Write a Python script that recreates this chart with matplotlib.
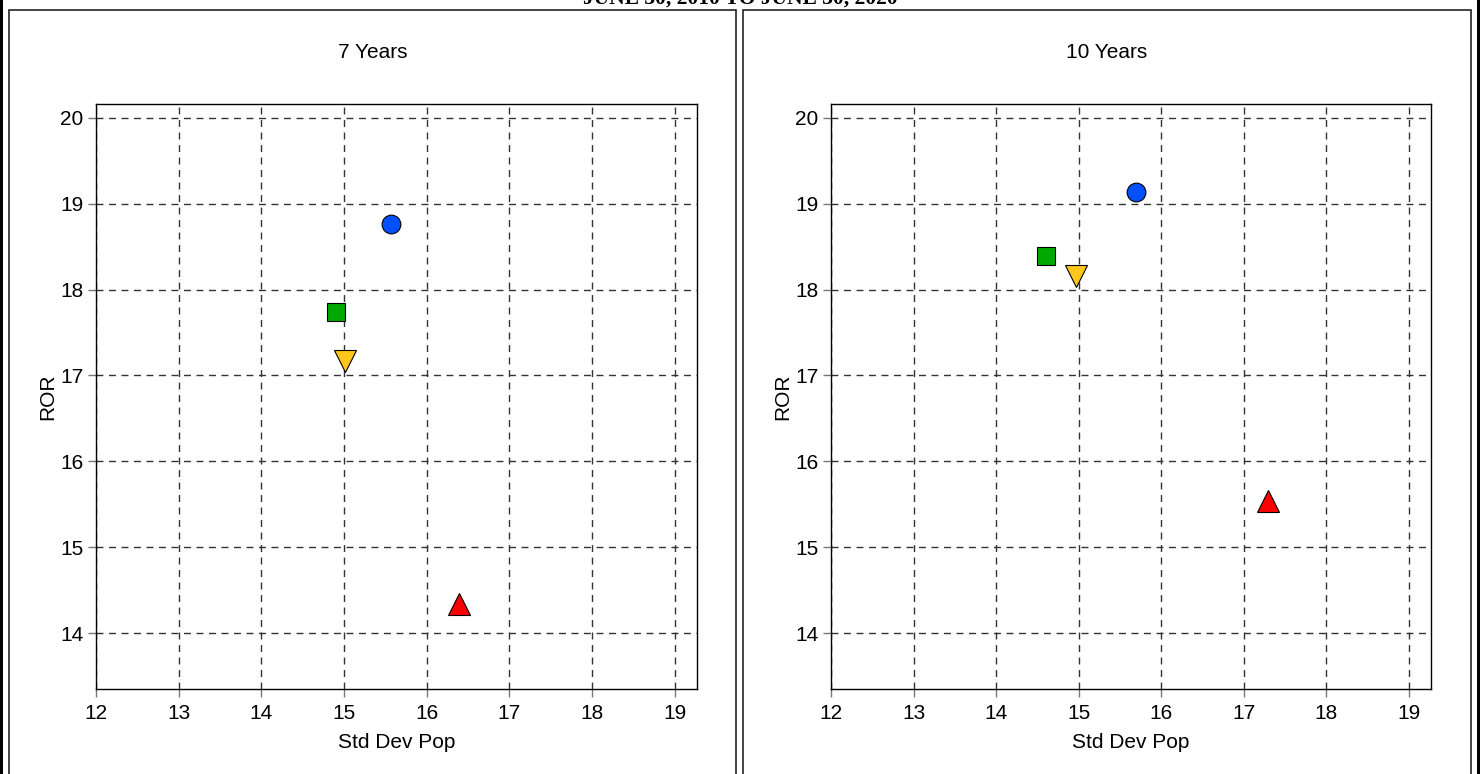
import matplotlib
matplotlib.use("Agg")
import matplotlib.pyplot as plt
from matplotlib.patches import Rectangle

W, H = 1480, 774

panel_titles = ["7 Years", "10 Years"]
x_ticks = [12, 13, 14, 15, 16, 17, 18, 19]
y_ticks = [14, 15, 16, 17, 18, 19, 20]

# series: circle (blue), square (green), down-triangle (yellow), up-triangle (red)
std_7 = [15.57, 14.90, 15.01, 16.39]
ror_7 = [18.76, 17.74, 17.17, 14.34]
std_10 = [15.70, 14.60, 14.97, 17.30]
ror_10 = [19.13, 18.39, 18.16, 15.54]

markers = ["o", "s", "v", "^"]
colors = ["#0050FF", "#00A800", "#FFC61E", "#FF0000"]
sizes = [13.5, 13.5, 16, 16]

plt.rcParams['font.family'] = ['Liberation Sans', 'DejaVu Sans']

fig = plt.figure(figsize=(W / 100, H / 100), dpi=100)


def fx(px):
    return px / W


def fy(py):
    return 1 - py / H


# outer borders
fig.add_artist(Rectangle((fx(0), 0), fx(3), 1, transform=fig.transFigure,
                         facecolor="black", edgecolor="none"))
fig.add_artist(Rectangle((fx(1477), 0), fx(3), 1, transform=fig.transFigure,
                         facecolor="black", edgecolor="none"))
# panel boxes
panels = [(9, 736), (743, 1471)]
for x0, x1 in panels:
    fig.add_artist(Rectangle((fx(x0), fy(790)), fx(x1 - x0), fy(10) - fy(790),
                             transform=fig.transFigure, facecolor="none",
                             edgecolor="#222222", linewidth=1.2))

fig.text(fx(740), fy(4), "JUNE 30, 2010 TO JUNE 30, 2020", ha="center", va="baseline",
         family=["Liberation Serif", "DejaVu Serif"], fontweight="bold", fontsize=15.5)

axes_px = [(96, 697), (831, 1431)]
data = [(std_7, ror_7), (std_10, ror_10)]
for (l, r), (p0, p1), title, (xs, ys) in zip(axes_px, panels, panel_titles, data):
    top, bot = 104, 689
    ax = fig.add_axes([fx(l), fy(bot), fx(r - l), fy(top) - fy(bot)])
    ax.set_xlim(12, 19.27)
    ax.set_ylim(13.35, 20.16)
    ax.set_xticks(x_ticks)
    ax.set_yticks(y_ticks)
    ax.grid(True, linestyle=(0, (5, 4)), color="#333333", linewidth=1)
    ax.set_axisbelow(True)
    ax.tick_params(direction="out", length=6, width=1, color="#777777",
                   labelsize=15, pad=3)
    ax.tick_params(axis="x", pad=5)
    for s in ax.spines.values():
        s.set_color("black")
        s.set_linewidth(1)
    for x, y, m, c, ms in zip(xs, ys, markers, colors, sizes):
        ax.plot([x], [y], marker=m, color=c, markersize=ms, markeredgecolor="black",
                markeredgewidth=0.8, linestyle="none", zorder=3)
    ax.set_xlabel("Std Dev Pop", fontsize=15, labelpad=7)
    ax.set_ylabel("ROR", fontsize=15, labelpad=2)
    fig.text(fx((p0 + p1) / 2), fy(52), title, ha="center", va="center", fontsize=15)

fig.savefig("out.png", dpi=100)
